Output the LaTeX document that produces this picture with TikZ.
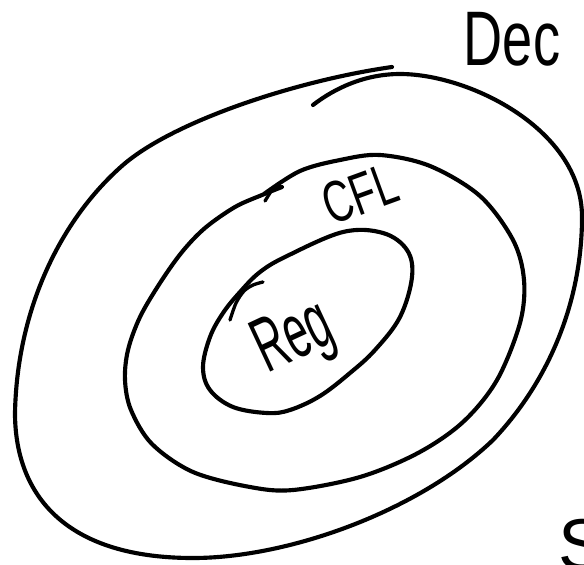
\documentclass[tikz,border=0pt]{standalone}
\usepackage{fontspec}
\setmainfont{Liberation Sans}
\begin{document}
\begin{tikzpicture}[x=0.75pt,y=-0.75pt,
  ring/.style={line width=3.1pt, line cap=round, line join=round},
  tick/.style={line width=2.5pt, line cap=round},
  hand/.style={inner sep=0pt}]
\fill[white] (0,0) rectangle (584,564);
\useasboundingbox (0,0) rectangle (584,564);
% outer set (Dec)
\draw[ring] (313,105) .. controls (335,88) and (365,74) .. (400,74)
  .. controls (470,74) and (582,130) .. (582,217)
  .. controls (582,300) and (550,380) .. (493,440)
  .. controls (420,510) and (290,558) .. (193,558)
  .. controls (60,558) and (15,490) .. (15,413)
  .. controls (17,310) and (60,220) .. (123,165)
  .. controls (175,120) and (300,80) .. (392,67);
% middle set (CFL)
\draw[ring] plot[smooth, tension=0.55] coordinates {
 (264,194) (300,171) (340,160) (380,155) (430,166) (480,196) (513,240)
 (524,280) (520,323) (497,380) (463,422) (418,453) (360,477) (293,490)
 (250,487) (193,472) (152,444) (131,410) (125,380) (128,350) (140,317)
 (160,283) (182,252) (205,228) (235,207) (262,195) (282,187)};
\draw[tick] (265,201) -- (273,188);
% inner set (Reg)
\draw[ring] plot[smooth cycle, tension=0.6] coordinates {
 (240,292) (260,272) (287,256) (343,232) (383,233) (407,250) (412,277)
 (400,317) (375,350) (350,373) (320,396) (290,410) (267,413) (233,407)
 (210,390) (203,367) (210,337) (223,313)};
\draw[tick] plot[smooth] coordinates {(230,320) (236,303) (244,291) (253,285) (263,282)};
% labels
\node[hand, font=\fontsize{58}{58}\selectfont, xscale=0.7] (dec) at (512,39) {Dec};
\node[hand, font=\fontsize{44}{44}\selectfont, rotate=20, xscale=0.68] (cfl) at (360,194) {CFL};
\node[hand, font=\fontsize{58}{58}\selectfont, rotate=25, xscale=0.55] (reg) at (295,340) {Reg};
\node[hand, font=\fontsize{54}{54}\selectfont, anchor=north west] (s) at (558,519) {S};
\end{tikzpicture}
\end{document}
